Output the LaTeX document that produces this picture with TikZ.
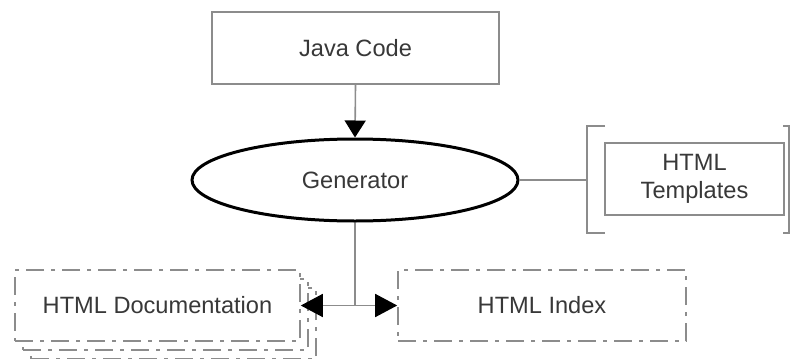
\documentclass[tikz,border=0pt]{standalone}
\usepackage{fontspec}
\setmainfont{Liberation Sans}
\usetikzlibrary{arrows.meta,shapes.geometric}
\definecolor{boxgray}{gray}{0.55}
\definecolor{txtgray}{gray}{0.22}
\tikzset{
  box/.style={draw=boxgray,line width=0.8pt,fill=white,inner sep=0pt,
    minimum width=143.5pt,minimum height=36pt},
  dbox/.style={box,dash pattern=on 9pt off 3.5pt on 2pt off 3.5pt,
    minimum width=142.5pt,minimum height=35.5pt},
  genbox/.style={ellipse,draw=black,line width=1.5pt,inner sep=0pt,
    minimum width=163pt,minimum height=41pt},
  link/.style={draw=boxgray,line width=0.8pt},
  tip/.style={-{Triangle[black,length=11pt,width=11.5pt]}}
}
\begin{document}
\begin{tikzpicture}[x=0.5pt,y=-0.5pt,font=\fontsize{11.8}{14}\selectfont,text=txtgray]
\useasboundingbox (0,0) rectangle (790,358);

\node[box]    (java)  at (355.5,48)   {Java Code};
\node[genbox] (gen)   at (355,180)    {Generator};
\node[box,minimum width=89.5pt,align=center] (tmpl) at (694.5,179) {HTML\\Templates};

% stacked output pages
\node[dbox] (doc3)  at (173.5,323.5)  {};
\node[dbox] (doc2)  at (165.5,314.5)  {};
\node[dbox] (doc1)  at (157.5,305.5)  {HTML Documentation};
\node[dbox,minimum width=144pt] (idx) at (542,305.5) {HTML Index};

\coordinate (brk) at (587,180);
\coordinate (jn)  at (gen.south |- idx.west);

% template brackets
\draw[link] (605,126) -- (587,126) -- (587,233) -- (605,233);
\draw[link] (783,126) -- (789,126) -- (789,233) -- (783,233);

\draw[link,-{Triangle[black,length=8.5pt,width=10.5pt]}] (java.south) -- (gen.north);
\draw[link] (gen.east) -- (brk);
\draw[link] (gen.south) -- (jn);
\draw[link,tip] (jn) -- (doc1.east);
\draw[link,tip] (jn) -- (idx.west);
\end{tikzpicture}
\end{document}
